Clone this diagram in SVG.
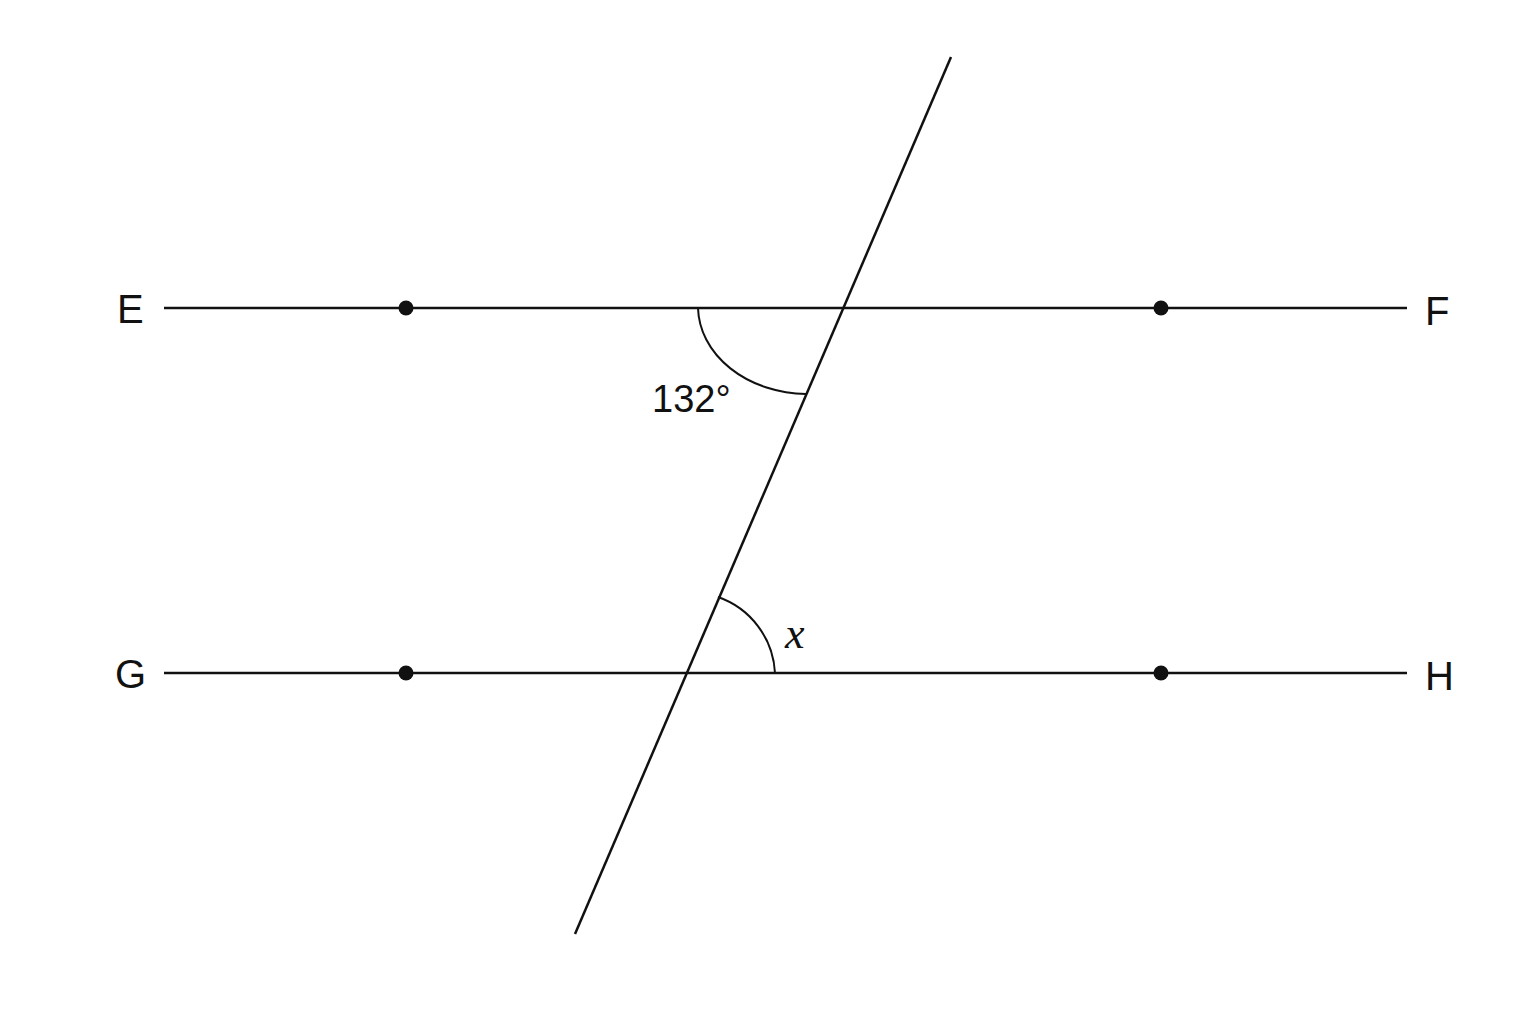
<svg xmlns="http://www.w3.org/2000/svg" width="1536" height="1024" viewBox="0 0 1536 1024">
<style>
.ln{stroke:#111;stroke-width:2.5;fill:none}
.arc{stroke:#111;stroke-width:2;fill:none}
.lbl{font-family:"Liberation Sans",Arial,sans-serif;font-size:40px;fill:#111}
.ang{font-family:"Liberation Sans",Arial,sans-serif;font-size:38px;fill:#111}
.var{font-family:"Liberation Serif","Times New Roman",serif;font-style:italic;font-size:44px;fill:#111}
.dot{fill:#111}
</style>
<rect width="1536" height="1024" fill="#fff"/>
<g id="connectors">
<line class="ln" x1="164" y1="308" x2="1407" y2="308"/>
<line class="ln" x1="164" y1="673" x2="1407" y2="673"/>
<line class="ln" x1="951" y1="57" x2="575" y2="934"/>
<path class="arc" d="M 698 308 A 110 88 0 0 0 806 394"/>
<path class="arc" d="M 718 597 A 85 85 0 0 1 775 673"/>
</g>
<g id="E"><text class="lbl" x="117" y="323">E</text></g>
<g id="F"><text class="lbl" x="1425" y="325">F</text></g>
<g id="G"><text class="lbl" x="115" y="688">G</text></g>
<g id="H"><text class="lbl" x="1425" y="690">H</text></g>
<g id="p1"><circle class="dot" cx="406" cy="308" r="7.5"/></g>
<g id="p2"><circle class="dot" cx="1161" cy="308" r="7.5"/></g>
<g id="p3"><circle class="dot" cx="406" cy="673" r="7.5"/></g>
<g id="p4"><circle class="dot" cx="1161" cy="673" r="7.5"/></g>
<g id="angle132"><text class="ang" x="652" y="412">132°</text></g>
<g id="anglex"><text class="var" x="785" y="648">x</text></g>
</svg>
